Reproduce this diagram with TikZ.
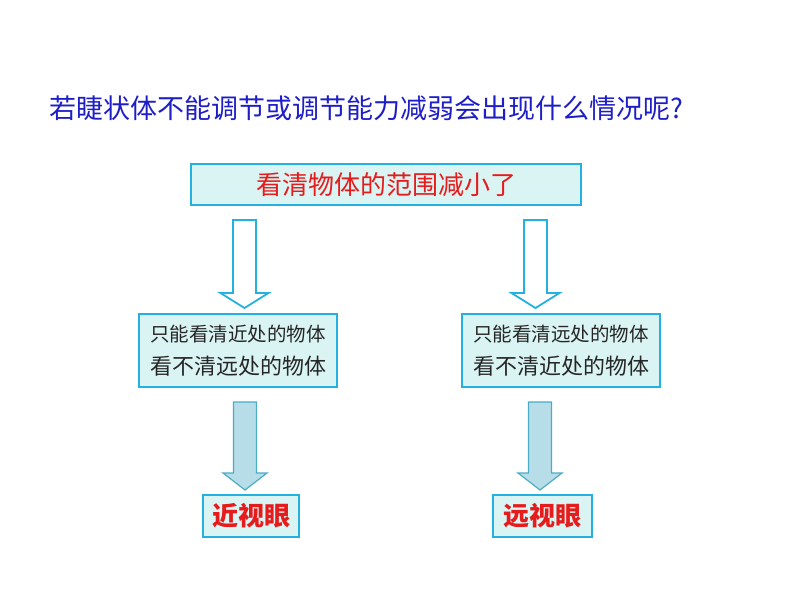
\documentclass[tikz,border=0pt]{standalone}
\usepackage{fontspec}
\setmainfont{Noto Sans CJK SC}
\usetikzlibrary{positioning, calc}
\definecolor{rahmen}{RGB}{36,177,224}
\definecolor{hell}{RGB}{218,244,244}
\definecolor{titel}{RGB}{30,30,200}
\definecolor{rot}{RGB}{230,28,28}
\definecolor{pfrand}{RGB}{75,172,198}
\definecolor{pffill}{RGB}{183,222,232}
\tikzset{kasten/.style={rectangle,draw=rahmen,fill=hell,line width=1.8pt,inner sep=0},
	blockpfeil/.style n args={3}{to path={let \p1=(\tikztostart), \p2=(\tikztotarget) in
		(\x1-#1,\y1) -- (\x1+#1,\y1) -- (\x1+#1,\y2+#3) -- (\x1+#2,\y2+#3) -- (\x1,\y2)
		-- (\x1-#2,\y2+#3) -- (\x1-#1,\y2+#3) -- cycle}},
	hohl/.style={draw=rahmen,fill=white,line width=1.8pt,line join=miter,blockpfeil={11.5pt}{24pt}{15pt}},
	voll/.style={draw=pfrand,fill=pffill,line width=1.2pt,line join=miter,blockpfeil={11.5pt}{22pt}{17pt}} }

\begin{document}
\begin{tikzpicture}[x=1pt,y=-1pt]
	\useasboundingbox (0,0) rectangle (800,600);

	\node (frage) [anchor=west,inner sep=0,text=titel,font=\fontsize{27}{30}\selectfont] at (49,108)
		{若睫状体不能调节或调节能力减弱会出现什么情况呢?};

	\node (bereich) [kasten,minimum width=390,minimum height=41,text=rot,font=\fontsize{26}{30}\selectfont]
		at (386,184.5) {看清物体的范围减小了};

	\node (nah) [kasten,minimum width=198,minimum height=73,align=center,text=black!85]
		at (238,350.5) {{\fontsize{19.5}{22}\selectfont 只能看清近处的物体}\\[12pt]
			{\fontsize{22}{24}\selectfont 看不清远处的物体}};
	\node (fern) [kasten,minimum width=198,minimum height=73,align=center,text=black!85]
		at (561,350.5) {{\fontsize{19.5}{22}\selectfont 只能看清远处的物体}\\[12pt]
			{\fontsize{22}{24}\selectfont 看不清近处的物体}};

	\node (kurz) [kasten,minimum width=96,minimum height=42,text=rot,font=\fontsize{26}{30}\selectfont\bfseries]
		at (251,516) {近视眼};
	\node (weit) [kasten,minimum width=99,minimum height=42,text=rot,font=\fontsize{26}{30}\selectfont\bfseries]
		at (542.5,516) {远视眼};

	% pfeile
	\coordinate (p1) at (244.5,220);  \coordinate (p1e) at (244.5,308);
	\coordinate (p2) at (535.5,220);  \coordinate (p2e) at (535.5,308);
	\coordinate (p3) at (245,402);    \coordinate (p3e) at (245,490);
	\coordinate (p4) at (540,402);    \coordinate (p4e) at (540,490);
	\draw[hohl] (p1) to (p1e);
	\draw[hohl] (p2) to (p2e);
	\draw[voll] (p3) to (p3e);
	\draw[voll] (p4) to (p4e);
\end{tikzpicture}
\end{document}
